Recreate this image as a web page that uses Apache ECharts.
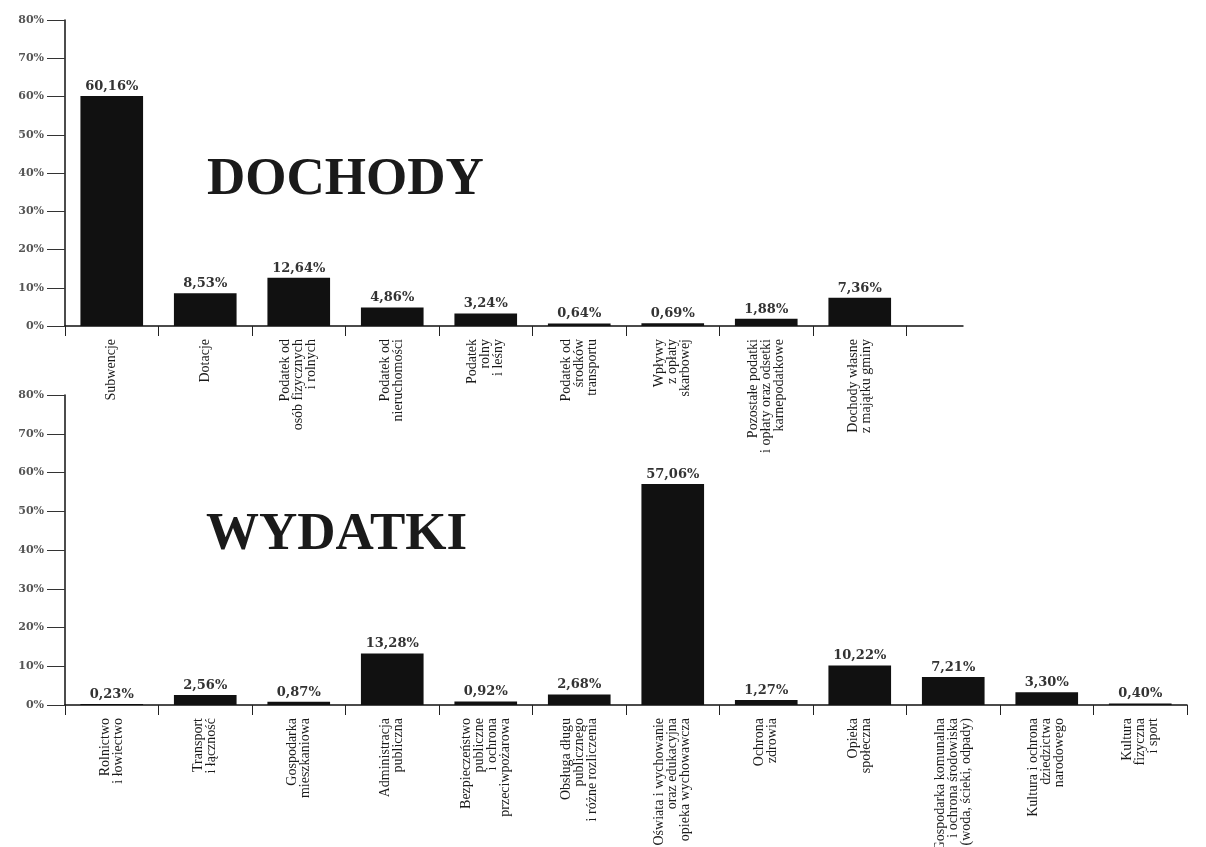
<!DOCTYPE html>
<html>
<head>
<meta charset="utf-8">
<script src="https://cdn.jsdelivr.net/npm/echarts@6/dist/echarts.min.js"></script>
<style>
  html, body { margin: 0; padding: 0; background: #fff; }
  #chart { width: 1206px; height: 847px; }
</style>
</head>
<body>
<div id="chart"></div>
<script>
// dochody (income) - share of total, %
const incomeCategories = [
  "Subwencje",
  "Dotacje",
  "Podatek od\nosób fizycznych\ni rolnych",
  "Podatek od\nnieruchomości",
  "Podatek\nrolny\ni leśny",
  "Podatek od\nśrodków\ntransportu",
  "Wpływy\nz opłaty\nskarbowej",
  "Pozostałe podatki\ni opłaty oraz odsetki\nkarnepodatkowe",
  "Dochody własne\nz majątku gminy",
];
const incomeValues = [60.16, 8.53, 12.64, 4.86, 3.24, 0.64, 0.69, 1.88, 7.36];

// wydatki (spending) - share of total, %
const spendCategories = [
  "Rolnictwo\ni łowiectwo",
  "Transport\ni łączność",
  "Gospodarka\nmieszkaniowa",
  "Administracja\npubliczna",
  "Bezpieczeństwo\npubliczne\ni ochrona\nprzeciwpożarowa",
  "Obsługa długu\npublicznego\ni różne rozliczenia",
  "Oświata i wychowanie\noraz edukacyjna\nopieka wychowawcza",
  "Ochrona\nzdrowia",
  "Opieka\nspołeczna",
  "Gospodarka komunalna\ni ochrona środowiska\n(woda, ścieki, odpady)",
  "Kultura i ochrona\ndziedzictwa\nnarodowego",
  "Kultura\nfizyczna\ni sport",
];
const spendValues = [0.23, 2.56, 0.87, 13.28, 0.92, 2.68, 57.06, 1.27, 10.22, 7.21, 3.30, 0.40];

const yTicks = { min: 0, max: 80, interval: 10 };

const BAND = 93.5;
const LEFT = 65;
const serif = "Liberation Serif";

const chart = echarts.init(document.getElementById("chart"));

const pct = (v) => v.toFixed(2).replace(".", ",") + "%";

const xAxisBase = (data, gridIndex) => ({
  type: "category",
  gridIndex,
  data,
  axisLine: { lineStyle: { color: "#111", width: 1.5 } },
  axisTick: { show: true, length: 10, lineStyle: { color: "#222" } },
  axisLabel: {
    interval: 0,
    rotate: 90,
    margin: 13,
    fontFamily: serif,
    fontSize: 14,
    lineHeight: 13,
    color: "#1a1a1a",
  },
});

const yAxisBase = (gridIndex) => ({
  type: "value",
  gridIndex,
  min: yTicks.min,
  max: yTicks.max,
  interval: yTicks.interval,
  axisLine: { show: true, lineStyle: { color: "#111", width: 1.5 } },
  axisTick: { show: true, length: 18, lineStyle: { color: "#333" } },
  splitLine: { show: false },
  axisLabel: {
    margin: 21,
    formatter: "{value}%",
    fontFamily: "DejaVu Serif",
    fontWeight: "bold",
    fontSize: 11,
    color: "#555",
  },
});

const barBase = (data, idx) => ({
  type: "bar",
  xAxisIndex: idx,
  yAxisIndex: idx,
  data,
  barWidth: "67%",
  itemStyle: { color: "#111" },
  label: {
    show: true,
    position: "top",
    distance: 3,
    formatter: (p) => pct(p.value),
    fontFamily: "DejaVu Serif",
    fontWeight: "bold",
    fontSize: 13,
    color: "#333",
  },
});

const topGrid = {
  left: LEFT, top: 20, width: BAND * incomeCategories.length, height: 306,
  outerBoundsMode: "none",
};
const bottomGrid = {
  left: LEFT, top: 395, width: BAND * spendCategories.length, height: 310,
  outerBoundsMode: "none",
};

chart.setOption({
  animation: false,
  backgroundColor: "#fff",
  title: [
    {
      text: "DOCHODY",
      left: 202,
      top: 149,
      textStyle: { fontFamily: serif, fontWeight: "bold", fontSize: 53, color: "#1a1a1a" },
    },
    {
      text: "WYDATKI",
      left: 201,
      top: 504,
      textStyle: { fontFamily: serif, fontWeight: "bold", fontSize: 53, color: "#1a1a1a" },
    },
  ],
  grid: [topGrid, bottomGrid],
  xAxis: [xAxisBase(incomeCategories, 0), xAxisBase(spendCategories, 1)],
  yAxis: [yAxisBase(0), yAxisBase(1)],
  series: [barBase(incomeValues, 0), barBase(spendValues, 1)],
  // the scanned top axis line runs on a bit past the last category
  graphic: [
    {
      type: "line",
      shape: {
        x1: topGrid.left + topGrid.width,
        y1: topGrid.top + topGrid.height,
        x2: topGrid.left + topGrid.width + 57,
        y2: topGrid.top + topGrid.height,
      },
      style: { stroke: "#111", lineWidth: 1.5 },
    },
  ],
});
</script>
</body>
</html>
